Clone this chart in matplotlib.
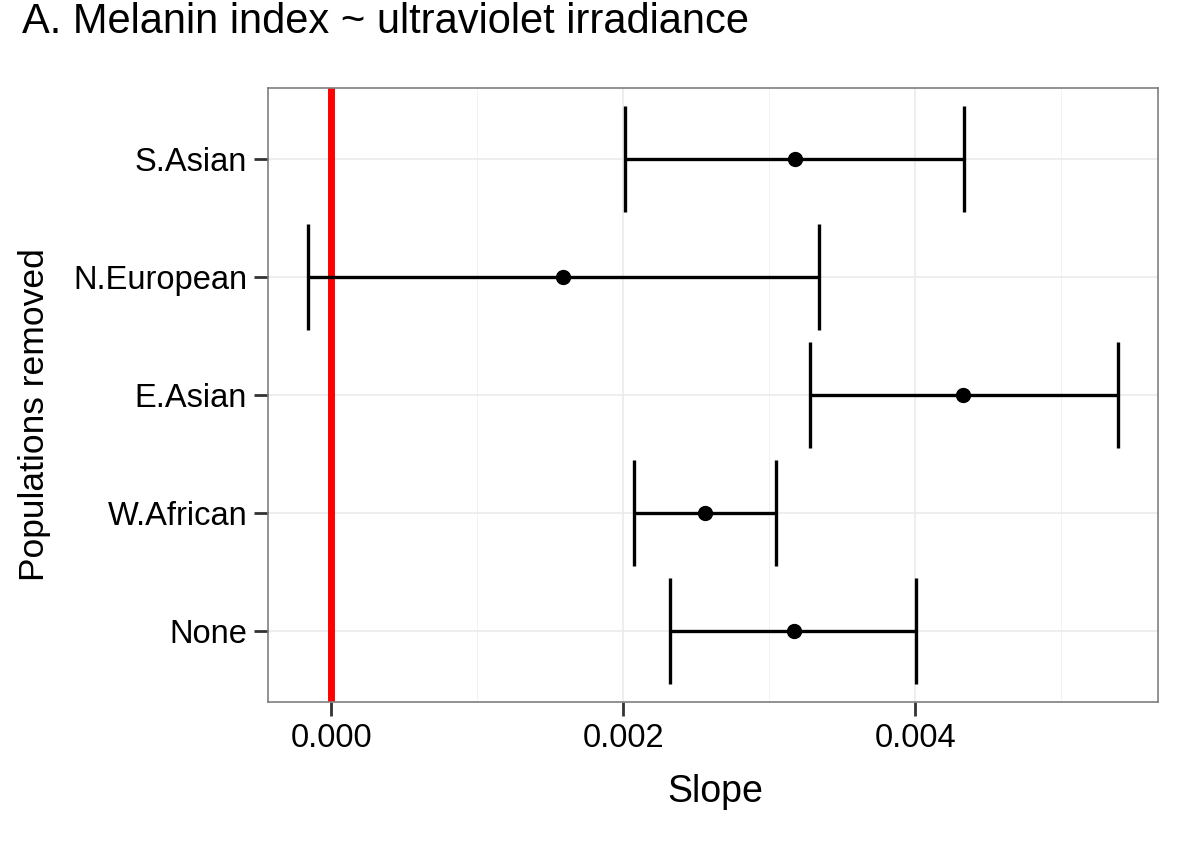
import matplotlib
matplotlib.use("Agg")
import matplotlib.pyplot as plt
from matplotlib.ticker import MultipleLocator

# populations removed, bottom to top
groups = ["None", "W.African", "E.Asian", "N.European", "S.Asian"]
slope = [0.003167, 0.00256, 0.004328, 0.00159, 0.003174]
lower = [0.002321, 0.002075, 0.003276, -0.000157, 0.002014]
upper = [0.004007, 0.003044, 0.005386, 0.003338, 0.004334]
x_ticks = [0.000, 0.002, 0.004]

plt.rcParams['font.family'] = ['Liberation Sans', 'DejaVu Sans']

fig = plt.figure(figsize=(12.04, 8.44), dpi=100)
ax = fig.add_axes([0.2226, 0.1682, 0.7392, 0.7275])

ypos = list(range(1, len(groups) + 1))

ax.axvline(0, color='#ff0000', lw=5, zorder=2)
ax.hlines(ypos, lower, upper, color='black', lw=2.4, zorder=3)
ax.vlines(lower, [y - 0.45 for y in ypos], [y + 0.45 for y in ypos],
          color='black', lw=2.4, zorder=3)
ax.vlines(upper, [y - 0.45 for y in ypos], [y + 0.45 for y in ypos],
          color='black', lw=2.4, zorder=3)
ax.plot(slope, ypos, 'o', color='black', ms=10, zorder=4)

span = max(upper) - min(lower)
ax.set_xlim(min(lower) - 0.05 * span, max(upper) + 0.05 * span)
ax.set_ylim(0.4, len(groups) + 0.6)

ax.set_xticks(x_ticks)
ax.set_xticklabels(["%.3f" % v for v in x_ticks])
ax.xaxis.set_minor_locator(MultipleLocator(0.001))
ax.set_yticks(ypos)
ax.set_yticklabels(groups)

ax.grid(which='major', color='#ebebeb', lw=1.2, zorder=0)
ax.grid(which='minor', axis='x', color='#f2f2f2', lw=0.7, zorder=0)
ax.set_axisbelow(True)
ax.tick_params(which='minor', length=0)
ax.tick_params(which='major', length=10, width=2, color='#333333',
               labelsize=23.5, labelcolor='black', pad=5)
for s in ax.spines.values():
    s.set_color('#7f7f7f')
    s.set_linewidth(1.2)

ax.set_xlabel("Slope", fontsize=27, va='center')
ax.xaxis.set_label_coords(0.502, -0.1466)
ax.set_ylabel("Populations removed", fontsize=25.5, va='center')
ax.yaxis.set_label_coords(-0.262, 0.469)

fig.text(0.018, 1 - 33 / 844, "A. Melanin index ~ ultraviolet irradiance",
         fontsize=30, va='baseline', ha='left',
         family=['Liberation Sans Narrow', 'Liberation Sans', 'DejaVu Sans'])

fig.savefig("out.png", dpi=100)
